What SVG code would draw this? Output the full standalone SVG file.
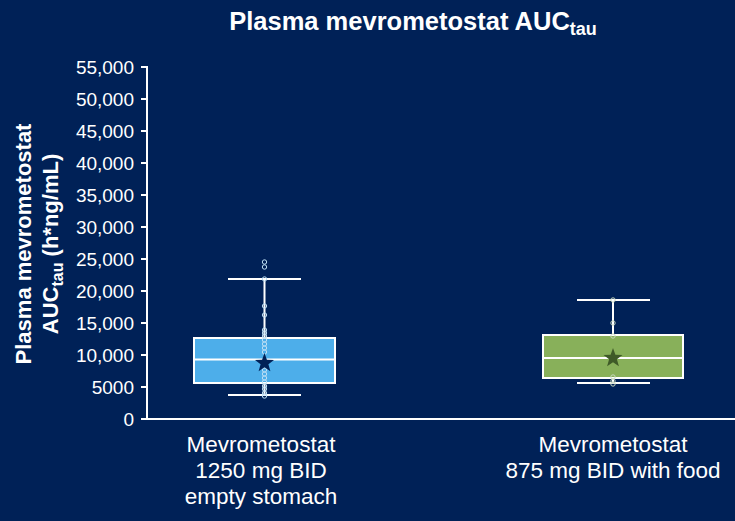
<svg xmlns="http://www.w3.org/2000/svg" width="735" height="521" viewBox="0 0 735 521">
<style>
text{font-family:"Liberation Sans",Arial,sans-serif;fill:#fff}
.t{font-size:19px;text-anchor:end}
.xl{font-size:22.5px;text-anchor:middle}
.ax{stroke:#fff;stroke-width:2}
.pt{fill:none;stroke:#bfe0f5;stroke-width:1}
.pg{fill:none;stroke:#c8d8c0;stroke-width:1}
</style>
<rect width="735" height="521" fill="#002157"/>
<text x="413" y="30" font-size="25.5" font-weight="bold" text-anchor="middle">Plasma mevrometostat AUC<tspan font-size="18" dy="5">tau</tspan></text>
<g id="axes">
<line class="ax" x1="147" y1="66" x2="147" y2="420"/>
<line class="ax" x1="146" y1="419" x2="735" y2="419"/>
<g class="ax">
<line x1="141" y1="67" x2="147" y2="67"/><line x1="141" y1="99" x2="147" y2="99"/><line x1="141" y1="131" x2="147" y2="131"/><line x1="141" y1="163" x2="147" y2="163"/><line x1="141" y1="195" x2="147" y2="195"/><line x1="141" y1="227" x2="147" y2="227"/><line x1="141" y1="259" x2="147" y2="259"/><line x1="141" y1="291" x2="147" y2="291"/><line x1="141" y1="323" x2="147" y2="323"/><line x1="141" y1="355" x2="147" y2="355"/><line x1="141" y1="387" x2="147" y2="387"/><line x1="141" y1="419" x2="147" y2="419"/>
</g>
<text class="t" x="134" y="74">55,000</text><text class="t" x="134" y="106">50,000</text><text class="t" x="134" y="138">45,000</text><text class="t" x="134" y="170">40,000</text><text class="t" x="134" y="202">35,000</text><text class="t" x="134" y="234">30,000</text><text class="t" x="134" y="266">25,000</text><text class="t" x="134" y="298">20,000</text><text class="t" x="134" y="330">15,000</text><text class="t" x="134" y="362">10,000</text><text class="t" x="134" y="394">5000</text><text class="t" x="134" y="426">0</text>
<text transform="translate(31,244) rotate(-90)" font-size="22" font-weight="bold" text-anchor="middle">Plasma mevrometostat</text>
<text transform="translate(58,244) rotate(-90)" font-size="22" font-weight="bold" text-anchor="middle">AUC<tspan font-size="16" dy="5">tau</tspan><tspan dy="-5"> (h*ng/mL)</tspan></text>
<text class="xl" x="261" y="452">Mevrometostat</text>
<text class="xl" x="261" y="478">1250 mg BID</text>
<text class="xl" x="261" y="504">empty stomach</text>
<text class="xl" x="613" y="452">Mevrometostat</text>
<text class="xl" x="613" y="478">875 mg BID with food</text>
</g>
<g id="box1">
<line class="ax" x1="264.5" y1="279" x2="264.5" y2="395"/>
<line class="ax" x1="228" y1="279" x2="301" y2="279"/>
<line class="ax" x1="228" y1="395" x2="301" y2="395"/>
<rect x="194" y="338" width="141" height="45" fill="#4daeea" stroke="#fff" stroke-width="2"/>
<line class="ax" x1="194" y1="359.5" x2="335" y2="359.5"/>
<g class="pt">
<circle cx="264.5" cy="262" r="2.2"/><circle cx="264.5" cy="267" r="2.2"/><circle cx="264.5" cy="279" r="2.2"/><circle cx="264.5" cy="306" r="2.2"/><circle cx="264.5" cy="315" r="2.2"/>
<circle cx="264.5" cy="330" r="2.2"/><circle cx="264.5" cy="333" r="2.2"/><circle cx="264.5" cy="336" r="2.2"/><circle cx="264.5" cy="340" r="2.2"/><circle cx="264.5" cy="344" r="2.2"/><circle cx="264.5" cy="348" r="2.2"/><circle cx="264.5" cy="352" r="2.2"/><circle cx="264.5" cy="366" r="2.2"/><circle cx="264.5" cy="370" r="2.2"/><circle cx="264.5" cy="374" r="2.2"/><circle cx="264.5" cy="378" r="2.2"/><circle cx="264.5" cy="382" r="2.2"/><circle cx="264.5" cy="386" r="2.2"/><circle cx="264.5" cy="389" r="2.2"/><circle cx="264.5" cy="393" r="2.2"/><circle cx="264.5" cy="396" r="2.2"/>
</g>
<polygon points="264.5,353 266.9,359.7 274,359.9 268.4,364.3 270.4,371.2 264.5,367.2 258.6,371.2 260.6,364.3 255,359.9 262.1,359.7" fill="#002157"/>
</g>
<g id="box2">
<line class="ax" x1="613" y1="300" x2="613" y2="383"/>
<line class="ax" x1="577" y1="300" x2="650" y2="300"/>
<line class="ax" x1="577" y1="383" x2="650" y2="383"/>
<rect x="543" y="335" width="140" height="43" fill="#88b05a" stroke="#fff" stroke-width="2"/>
<line class="ax" x1="543" y1="358" x2="683" y2="358"/>
<g class="pg">
<circle cx="613" cy="300" r="2.2"/><circle cx="613" cy="323" r="2.2"/><circle cx="613" cy="336" r="2.2"/><circle cx="613" cy="377" r="2.2"/><circle cx="613" cy="381" r="2.2"/><circle cx="613" cy="384" r="2.2"/>
</g>
<polygon points="613,348 615.4,354.7 622.5,354.9 616.9,359.3 618.9,366.2 613,362.2 607.1,366.2 609.1,359.3 603.5,354.9 610.6,354.7" fill="#3f5a28"/>
</g>
</svg>
